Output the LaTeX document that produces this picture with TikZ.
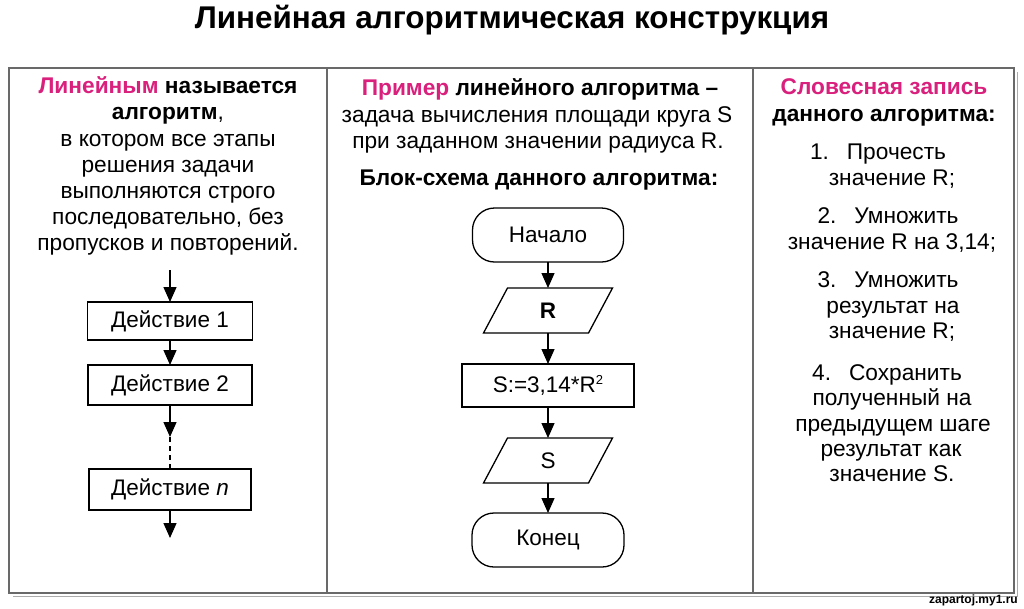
\documentclass[tikz,border=0pt]{standalone}
\usepackage{fontspec}
\setmainfont{Liberation Sans}
\usetikzlibrary{arrows.meta,calc}
\definecolor{pinkc}{RGB}{218,32,125}
\definecolor{framec}{RGB}{105,105,105}
\begin{document}
\begin{tikzpicture}[x=1pt,y=-1pt,
  txt/.style={anchor=base,inner sep=0pt,font=\fontsize{22.7}{26}\selectfont},
  box/.style={draw,line width=1.3pt,inner sep=0pt,outer sep=0pt,font=\fontsize{22.5}{26}\selectfont},
  para/.style={inner sep=0pt,outer sep=0pt,font=\fontsize{22.5}{26}\selectfont},
  paraline/.style={line width=1.3pt},
  flow/.style={line width=1.3pt,-{Triangle[length=15pt,width=13pt]}},
  frameline/.style={framec,line width=2pt}
]
\useasboundingbox (0,0) rectangle (1024,608);
\fill[white] (0,0) rectangle (1024,608);

% title
\node[inner sep=0pt] (title) at (512,20) {\fontsize{31.4}{36}\selectfont\bfseries Линейная алгоритмическая конструкция};

% frame
\draw[framec!55,line width=1.5pt] (1017.5,72) -- (1017.5,596.5) -- (13,596.5);
\draw[frameline] (9,68) rectangle (1014,593);
\draw[frameline] (327,68) -- (327,593);
\draw[frameline] (753,68) -- (753,593);

% left column text
\node[txt] (l1) at (168,93) {\textbf{\color{pinkc}Линейным} \textbf{называется}};
\node[txt] (l2) at (168,119) {\textbf{алгоритм},};
\node[txt] (l3) at (168,146) {в котором все этапы};
\node[txt] (l4) at (168,172) {решения задачи};
\node[txt] (l5) at (168,198) {выполняются строго};
\node[txt] (l6) at (168,224) {последовательно, без};
\node[txt] (l7) at (168,250) {пропусков и повторений.};

% middle column text
\node[txt] (m1) at (540,95) {\textbf{\color{pinkc}Пример} \textbf{линейного алгоритма –}};
\node[txt] (m2) at (537,122) {задача вычисления площади круга S};
\node[txt] (m3) at (538,148) {при заданном значении радиуса R.};
\node[txt] (m4) at (539,185) {\textbf{Блок-схема данного алгоритма:}};

% right column text
\node[txt] (r1) at (884,94) {\textbf{\color{pinkc}Словесная запись}};
\node[txt] (r2) at (884,121) {\textbf{данного алгоритма:}};
\node[txt] (r3) at (878,159) {1.\hspace{18pt}Прочесть};
\node[txt] (r4) at (892,185) {значение R;};
\node[txt] (r5) at (888,223) {2.\hspace{18pt}Умножить};
\node[txt] (r6) at (892,249) {значение R на 3,14;};
\node[txt] (r7) at (888,287) {3.\hspace{18pt}Умножить};
\node[txt] (r8) at (893,313) {результат на};
\node[txt] (r9) at (892,338) {значение R;};
\node[txt] (r10) at (887,380) {4.\hspace{18pt}Сохранить};
\node[txt] (r11) at (892,405) {полученный на};
\node[txt] (r12) at (893,431) {предыдущем шаге};
\node[txt] (r13) at (891,456) {результат как};
\node[txt] (r14) at (892,481) {значение S.};

% left flowchart
\coordinate (lt) at (170,270);
\node[box,minimum width=165,minimum height=38] (b1) at (170,321) {Действие 1};
\node[box,minimum width=164,minimum height=40] (b2) at (170,385) {Действие 2};
\coordinate (ld) at (170,437);
\node[box,minimum width=162,minimum height=41] (bn) at (170,489.5) {Действие \textit{n}};
\coordinate (lb) at (170,538);
\draw[flow] (lt) -- (b1);
\draw[flow] (b1) -- (b2);
\draw[flow] (b2) -- (ld);
\draw[line width=1.3pt,dash pattern=on 5pt off 4pt] (ld) -- (bn);
\draw[flow] (bn) -- (lb);

% middle flowchart
\node[box,rounded corners=22,minimum width=151,minimum height=54] (st) at (548,235) {Начало};
\node[para,minimum width=105,minimum height=45] (r) at (548,310.5) {\textbf{R}};
\draw[paraline] ([xshift=-12]r.south west) -- ([xshift=12]r.north west) -- ([xshift=12]r.north east) -- ([xshift=-12]r.south east) -- cycle;
\node[box,minimum width=172,minimum height=43] (calc) at (548,385.5) {S:=3,14*R\raisebox{8pt}{\fontsize{13}{13}\selectfont 2}};
\node[para,minimum width=105,minimum height=45] (s) at (548,460.5) {S};
\draw[paraline] ([xshift=-12]s.south west) -- ([xshift=12]s.north west) -- ([xshift=12]s.north east) -- ([xshift=-12]s.south east) -- cycle;
\node[box,rounded corners=22,minimum width=152,minimum height=54] (en) at (548,540) {Конец};
\draw[flow] (st) -- (r);
\draw[flow] (r) -- (calc);
\draw[flow] (calc) -- (s);
\draw[flow] (s) -- (en);

% watermark
\node[inner sep=0pt,anchor=east] (wm) at (1018,600) {\fontsize{12}{12}\selectfont\bfseries zapartoj.my1.ru};
\end{tikzpicture}
\end{document}
